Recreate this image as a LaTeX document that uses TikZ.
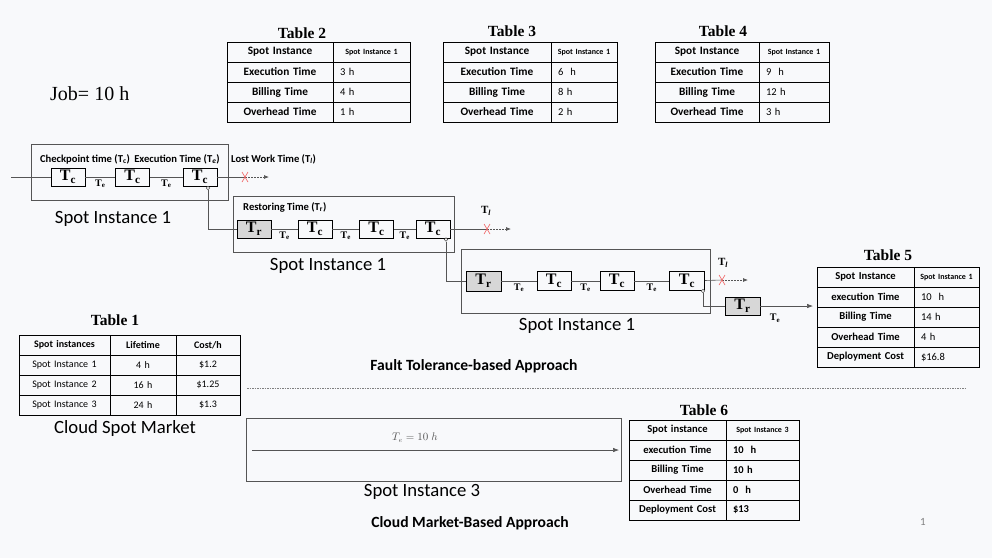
\documentclass[tikz,border=0pt]{standalone}
\usepackage{fontspec}
\setmainfont{Carlito}
\newfontfamily\tms{Liberation Serif}
\usetikzlibrary{arrows.meta,matrix}
\definecolor{bg}{RGB}{248,249,251}
\definecolor{linegray}{RGB}{85,85,85}
\definecolor{boxgray}{RGB}{215,215,215}
\definecolor{xred}{RGB}{240,95,95}
\newcommand\TT[1]{{\tms\bfseries T\textsubscript{#1}}}
\newcommand\fs[1]{\fontsize{#1}{#1}\selectfont}
\tikzset{
 tcbox/.style={draw=black, line width=0.9pt, minimum width=34pt, minimum height=18pt, inner sep=0pt, font=\tms\bfseries\fs{16}},
 trbox/.style={tcbox, fill=boxgray},
 outerbox/.style={draw=linegray, line width=0.9pt, inner sep=0pt},
 link/.style={draw=linegray, line width=0.6pt},
 telab/.style={font=\fs{10}, inner sep=0pt, anchor=north, yshift=-2.5pt},
 smalllab/.style={font=\bfseries\fs{10.6}, inner sep=0pt},
 biglab/.style={font=\fs{18.7}, inner sep=0pt},
 ttitle/.style={font=\tms\bfseries\fs{15.5}, inner sep=0pt},
 knob/.style={circle, draw=linegray, fill=white, line width=0.5pt, minimum size=3.5pt, inner sep=0pt},
 lost/.style={draw=linegray, line width=0.7pt, dash pattern=on 1.5pt off 1.5pt, -{Latex[length=5pt,width=4pt]}},
 xmark/.style={draw=xred, line width=0.6pt},
 tbl/.style={matrix of nodes, ampersand replacement=\&, nodes in empty cells,
   column sep=-0.7pt, row sep=-0.7pt, inner sep=0pt,
   nodes={draw=black, line width=0.7pt, minimum height=20pt, inner ysep=0pt, inner xsep=0pt, font=\fs{#1}, anchor=center}},
 tbl/.default=10.5,
 ca/.style 2 args={nodes={text width=#1, align=center, inner xsep=0pt, font=\bfseries\fs{#2}}},
 cb/.style={nodes={text width=#1-14pt, inner xsep=7pt, align=left}},
 cc/.style={nodes={text width=#1, align=center, inner xsep=0pt}},
 hd/.style={font=\bfseries\fs{8}, inner xsep=2pt, text width=#1-4pt, align=center},
 bd/.style={font=\bfseries\fs{10.5}},
}
\begin{document}
\begin{tikzpicture}[x=1pt,y=-1pt]
\fill[bg] (0,0) rectangle (992,558);
\useasboundingbox (0,0) rectangle (992,558);

% Job label
\node[font=\tms\fs{20}, anchor=west, inner sep=0pt] (job) at (50,94) {Job= 10 h};

% ---------- tables 2-4 ----------
\node[ttitle] (tt2) at (302,33) {Table 2};
\matrix[tbl=10.5, column 1/.style={ca={106pt}{11.3}}, column 2/.style={cb=77pt}] (t2) at (318.5,82) {
Spot Instance \& |[hd=77pt]| Spot Instance 1 \\
Execution Time \& 3 h \\
Billing Time \& 4 h \\
Overhead Time \& 1 h \\
};
\node[ttitle] (tt3) at (512,31) {Table 3};
\matrix[tbl=10.5, column 1/.style={ca={108pt}{11.3}}, column 2/.style={cb=66pt}] (t3) at (530,82) {
Spot Instance \& |[hd=66pt]| Spot Instance 1 \\
Execution Time \& 6~ h \\
Billing Time \& 8 h \\
Overhead Time \& 2 h \\
};
\node[ttitle] (tt4) at (723,31) {Table 4};
\matrix[tbl=10.5, column 1/.style={ca={104pt}{11.3}}, column 2/.style={cb=70pt}] (t4) at (742,82) {
Spot Instance \& |[hd=70pt]| Spot Instance 1 \\
Execution Time \& 9~ h \\
Billing Time \& 12 h \\
Overhead Time \& 3 h \\
};

% ---------- block 1 ----------
\node[outerbox, minimum width=197pt, minimum height=56pt] (o1) at (129.5,172) {};
\node[tcbox] (c11) at (68,177) {T\textsubscript{c}};
\node[tcbox] (c12) at (132.5,177) {T\textsubscript{c}};
\node[tcbox] (c13) at (200,177) {T\textsubscript{c}};
\node[smalllab] (l11) at (85,159) {Checkpoint time (T\textsubscript{c})};
\node[smalllab] (l12) at (177,159) {Execution Time (T\textsubscript{\textit{e}})};
\node[smalllab, anchor=west] (l13) at (231,159) {Lost Work Time (T\textsubscript{\textit{l}})};
\node[biglab] (s1) at (113,219) {Spot Instance 1};
\coordinate (in1) at (11,177);
\draw[link] (in1) -- (c11);
\draw[link] (c11) -- node[telab] {\TT{e}} (c12);
\draw[link] (c12) -- node[telab] {\TT{e}} (c13);
\coordinate (x1) at (245,177);
\coordinate (e1) at (269,177);
\draw[link] (c13) -- (x1);
\draw[lost] (x1) -- (e1);
\draw[xmark] ([shift={(-3,-5)}]x1) -- ([shift={(3,5)}]x1) ([shift={(-3,5)}]x1) -- ([shift={(3,-5)}]x1);

% ---------- block 2 ----------
\node[outerbox, minimum width=221pt, minimum height=56pt] (o2) at (343.5,224) {};
\node[trbox] (r21) at (254,229) {T\textsubscript{r}};
\node[tcbox] (c21) at (315,229) {T\textsubscript{c}};
\node[tcbox] (c22) at (376.5,229) {T\textsubscript{c}};
\node[tcbox] (c23) at (433,229) {T\textsubscript{c}};
\node[smalllab, anchor=west] (l21) at (243,207) {Restoring Time (T\textsubscript{r})};
\node[font=\tms\bfseries\fs{11}, inner sep=0pt] (l22) at (486,211) {T\textsubscript{\textit{l}}};
\node[biglab] (s2) at (328,266) {Spot Instance 1};
\node[knob] (k1) at (208,188) {};
\draw[link] (k1) |- (r21);
\draw[link] (r21) -- node[telab] {\TT{e}} (c21);
\draw[link] (c21) -- node[telab] {\TT{e}} (c22);
\draw[link] (c22) -- node[telab] {\TT{e}} (c23);
\coordinate (x2) at (487,229);
\coordinate (e2) at (511,229);
\draw[link] (c23) -- (x2);
\draw[lost] (x2) -- (e2);
\draw[xmark] ([shift={(-3,-5)}]x2) -- ([shift={(3,5)}]x2) ([shift={(-3,5)}]x2) -- ([shift={(3,-5)}]x2);

% ---------- block 3 ----------
\node[outerbox, minimum width=249pt, minimum height=64pt] (o3) at (585.5,281) {};
\node[trbox, minimum width=35pt, minimum height=20pt] (r31) at (483.5,281) {T\textsubscript{r}};
\node[tcbox, minimum height=19pt] (c31) at (554,281) {T\textsubscript{c}};
\node[tcbox, minimum height=19pt] (c32) at (617,281) {T\textsubscript{c}};
\node[tcbox, minimum width=35pt, minimum height=19pt] (c33) at (687,281) {T\textsubscript{c}};
\node[font=\tms\bfseries\fs{11}, inner sep=0pt] (l31) at (723,263) {T\textsubscript{\textit{l}}};
\node[biglab] (s3) at (577,326) {Spot Instance 1};
\node[knob] (k2) at (446,239.5) {};
\draw[link] (k2) |- (r31);
\draw[link] (r31) -- node[telab] {\TT{e}} (c31);
\draw[link] (c31) -- node[telab] {\TT{e}} (c32);
\draw[link] (c32) -- node[telab] {\TT{e}} (c33);
\coordinate (x3) at (722,280);
\coordinate (e3) at (748,280);
\draw[link] (c33) -- (x3);
\draw[lost] (x3) -- (e3);
\draw[xmark] ([shift={(-3,-5)}]x3) -- ([shift={(3,5)}]x3) ([shift={(-3,5)}]x3) -- ([shift={(3,-5)}]x3);
\node[knob] (k3) at (703,291) {};
\node[trbox, minimum width=35pt, minimum height=18pt] (r32) at (742.5,306) {T\textsubscript{r}};
\draw[link] (k3) |- (r32);
\coordinate (a5) at (813,306);
\draw[link, -{Latex[length=6pt,width=4.5pt]}] (r32) -- (a5);
\node[font=\tms\bfseries\fs{10}, inner sep=0pt] (te5) at (775,318) {T\textsubscript{e}};

% ---------- table 5 ----------
\node[ttitle] (tt5) at (888,255) {Table 5};
\matrix[tbl=10.5, column 1/.style={ca={97pt}{10.6}}, column 2/.style={cb=65pt}] (t5) at (898,317) {
Spot Instance \& |[hd=65pt]| Spot Instance 1 \\
execution Time \& 10~ h \\
Billing Time \& 14 h \\
Overhead Time \& 4 h \\
Deployment Cost \& \$16.8 \\
};

% ---------- table 1 ----------
\node[ttitle] (tt1) at (115,320) {Table 1};
\matrix[tbl=10, column 1/.style={cc=91pt}, column 2/.style={cc=66pt}, column 3/.style={cc=64pt}, row 1/.style={nodes={font=\bfseries\fs{10}}}] (t1) at (129.5,375) {
Spot instances \& Lifetime \& Cost/h \\
Spot Instance 1 \& 4 h \& \$1.2 \\
Spot Instance 2 \& 16 h \& \$1.25 \\
Spot Instance 3 \& 24 h \& \$1.3 \\
};
\node[biglab] (csm) at (125,429) {Cloud Spot Market};

% ---------- separator and captions ----------
\node[font=\bfseries\fs{15.6}, inner sep=0pt] (fta) at (474,366) {Fault Tolerance-based Approach};
\coordinate (d1) at (247,388);
\coordinate (d2) at (966,388);
\draw[draw=gray, line width=0.6pt, dash pattern=on 1.5pt off 1pt] (d1) -- (d2);

% ---------- spot instance 3 ----------
\node[outerbox, draw=linegray, minimum width=375pt, minimum height=63pt] (o4) at (434,449.5) {};
\coordinate (a6s) at (252,450);
\coordinate (a6e) at (619,450);
\draw[link, -{Latex[length=6pt,width=4.5pt]}] (a6s) -- (a6e);
\node[font=\fs{10.5}, text=linegray, inner sep=0pt] (te6) at (415,438) {$T_e = 10\;h$};
\node[biglab] (s4) at (422,492) {Spot Instance 3};
\node[font=\bfseries\fs{15.6}, inner sep=0pt] (cmba) at (470,523) {Cloud Market-Based Approach};

% ---------- table 6 ----------
\node[ttitle] (tt6) at (704,410) {Table 6};
\matrix[tbl=10.5, column 1/.style={ca={97pt}{10.6}}, column 2/.style={cb=73pt}] (t6) at (714,470) {
Spot instance \& |[hd=73pt]| Spot Instance 3 \\
execution Time \& |[bd]| 10~ h \\
Billing Time \& |[bd]| 10 h \\
Overhead Time \& |[bd]| 0~ h \\
Deployment Cost \& |[bd]| \$13 \\
};

\node[font=\fs{11}, text=gray, inner sep=0pt] (pg) at (923,522) {1};
\end{tikzpicture}
\end{document}
